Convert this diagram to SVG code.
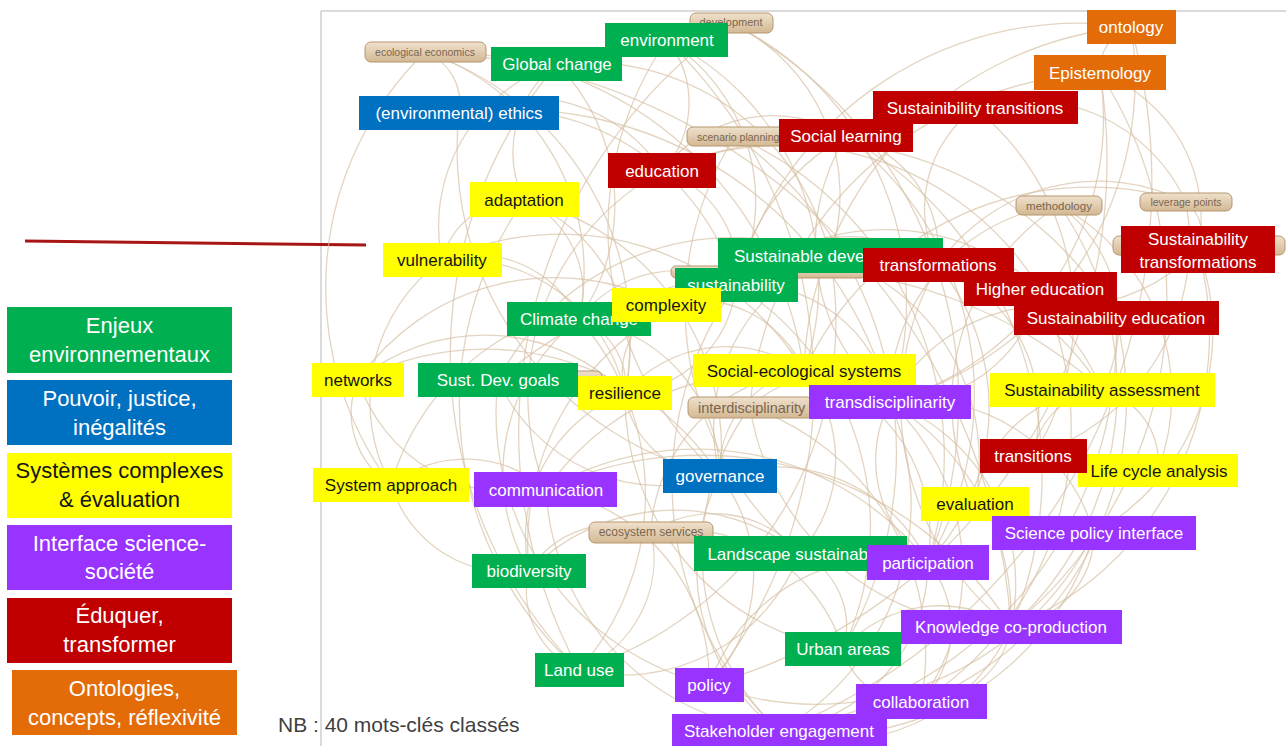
<svg xmlns="http://www.w3.org/2000/svg" width="1286" height="746" viewBox="0 0 1286 746">
<defs>
<linearGradient id="tanG" x1="0" y1="0" x2="0" y2="1">
<stop offset="0" stop-color="#efe1cd"/>
<stop offset="1" stop-color="#d3b893"/>
</linearGradient>
<clipPath id="frameClip"><rect x="322" y="12" width="964" height="734"/></clipPath>
<style>
.g{fill:#00B050}.b{fill:#0070C0}.y{fill:#FFFF00}.p{fill:#9933FF}.r{fill:#C00000}.o{fill:#E36C09}
.t{font-family:"Liberation Sans",Arial,sans-serif;font-size:17px;fill:#ffffff;text-anchor:middle}
.tan{fill:url(#tanG);stroke:#b5966f;stroke-width:1}
.tt{font-family:"Liberation Sans",Arial,sans-serif;fill:#7a6650;text-anchor:middle}
.lg{font-family:"Liberation Sans",Arial,sans-serif;font-size:22px;fill:#ffffff;text-anchor:middle}
.t.s,.tt.s{text-anchor:start}
.t.k,.lg.k{fill:#151515}
#edges path{fill:none;stroke:#d6bfa4;stroke-opacity:0.68;stroke-width:1.3}
</style>
</defs>
<rect width="1286" height="746" fill="#ffffff"/>
<g id="frame" fill="none" stroke="#d0d0d0" stroke-width="1.5">
<path d="M321 11 H1286 M321 11 V746"/>
</g>
<path id="redline" d="M25 241 L366 245" stroke="#a81515" stroke-width="3" fill="none"/>
<g id="edges" clip-path="url(#frameClip)">
<path d="M425 52 A230 230 0 0 1 579 319"/>
<path d="M425 52 A370 370 0 0 1 804 371"/>
<path d="M425 52 A330 330 0 0 0 391 485"/>
<path d="M425 52 A300 300 0 0 1 625 393"/>
<path d="M557 64 A200 200 0 0 1 579 319"/>
<path d="M557 64 A110 110 0 0 0 524 200"/>
<path d="M557 64 A170 170 0 0 0 442 260"/>
<path d="M557 64 A250 250 0 0 1 830 256"/>
<path d="M557 64 A450 450 0 0 0 579 670"/>
<path d="M667 40 A100 100 0 0 1 662 171"/>
<path d="M667 40 A190 190 0 0 1 736 285"/>
<path d="M667 40 A330 330 0 0 0 720 476"/>
<path d="M667 40 A270 270 0 0 1 804 371"/>
<path d="M667 40 A480 480 0 0 1 709 685"/>
<path d="M731 23 A190 190 0 0 1 830 256"/>
<path d="M731 23 A310 310 0 0 1 890 402"/>
<path d="M731 23 A430 430 0 0 1 928 562"/>
<path d="M459 113 A245 245 0 0 1 736 285"/>
<path d="M459 113 A390 390 0 0 1 890 402"/>
<path d="M459 113 A335 335 0 0 0 720 476"/>
<path d="M459 113 A160 160 0 0 1 662 171"/>
<path d="M735 136 A350 350 0 0 1 928 562"/>
<path d="M735 136 A320 320 0 0 0 800 553"/>
<path d="M735 136 A390 390 0 0 1 843 649"/>
<path d="M662 171 A300 300 0 0 1 1040 289"/>
<path d="M662 171 A360 360 0 0 1 1116 318"/>
<path d="M662 171 A140 140 0 0 1 846 136"/>
<path d="M662 171 A105 105 0 0 1 736 285"/>
<path d="M662 171 A255 255 0 0 0 546 490"/>
<path d="M524 200 A100 100 0 0 1 579 319"/>
<path d="M524 200 A80 80 0 0 0 442 260"/>
<path d="M524 200 A165 165 0 0 1 625 393"/>
<path d="M524 200 A255 255 0 0 1 720 476"/>
<path d="M524 200 A355 355 0 0 0 579 670"/>
<path d="M1131 27 A45 45 0 0 0 1100 73"/>
<path d="M1131 27 A335 335 0 0 1 890 402"/>
<path d="M1131 27 A355 355 0 0 0 804 371"/>
<path d="M1131 27 A355 355 0 0 0 736 285"/>
<path d="M1100 73 A295 295 0 0 1 890 402"/>
<path d="M1100 73 A365 365 0 0 0 750 407"/>
<path d="M1100 73 A155 155 0 0 1 1198 250"/>
<path d="M1100 73 A420 420 0 0 1 1011 627"/>
<path d="M975 108 A265 265 0 0 1 1033 456"/>
<path d="M975 108 A125 125 0 0 0 938 265"/>
<path d="M975 108 A225 225 0 0 0 736 285"/>
<path d="M975 108 A175 175 0 0 1 1186 202"/>
<path d="M846 136 A325 325 0 0 1 928 562"/>
<path d="M846 136 A120 120 0 0 1 938 265"/>
<path d="M846 136 A205 205 0 0 0 890 402"/>
<path d="M846 136 A390 390 0 0 1 1011 627"/>
<path d="M1059 205 A195 195 0 0 0 890 402"/>
<path d="M1059 205 A145 145 0 0 1 1102 390"/>
<path d="M1059 205 A215 215 0 0 1 1158 470"/>
<path d="M1059 205 A235 235 0 0 0 975 504"/>
<path d="M1059 205 A320 320 0 0 1 1011 627"/>
<path d="M1186 202 A40 40 0 0 1 1198 250"/>
<path d="M1186 202 A195 195 0 0 0 938 265"/>
<path d="M1186 202 A225 225 0 0 1 1033 456"/>
<path d="M1186 202 A315 315 0 0 0 804 371"/>
<path d="M1198 250 A195 195 0 0 1 938 265"/>
<path d="M1198 250 A315 315 0 0 1 1011 627"/>
<path d="M1198 250 A230 230 0 0 1 1094 533"/>
<path d="M938 265 A160 160 0 0 1 1033 456"/>
<path d="M938 265 A280 280 0 0 0 1011 627"/>
<path d="M938 265 A225 225 0 0 1 928 562"/>
<path d="M938 265 A155 155 0 0 0 736 285"/>
<path d="M1040 289 A65 65 0 0 1 1116 318"/>
<path d="M1040 289 A230 230 0 0 0 736 285"/>
<path d="M1040 289 A145 145 0 0 1 890 402"/>
<path d="M1040 289 A325 325 0 0 1 921 702"/>
<path d="M1116 318 A180 180 0 0 0 890 402"/>
<path d="M1116 318 A400 400 0 0 1 779 731"/>
<path d="M1116 318 A325 325 0 0 1 921 702"/>
<path d="M830 256 A265 265 0 0 0 498 380"/>
<path d="M830 256 A230 230 0 0 1 1102 390"/>
<path d="M830 256 A185 185 0 0 0 720 476"/>
<path d="M830 256 A215 215 0 0 1 975 504"/>
<path d="M830 256 A365 365 0 0 1 579 670"/>
<path d="M736 285 A125 125 0 0 0 579 319"/>
<path d="M736 285 A120 120 0 0 1 625 393"/>
<path d="M736 285 A285 285 0 0 1 1102 390"/>
<path d="M736 285 A145 145 0 0 1 890 402"/>
<path d="M736 285 A285 285 0 0 1 843 649"/>
<path d="M736 285 A340 340 0 0 0 779 731"/>
<path d="M736 285 A265 265 0 0 0 529 571"/>
<path d="M442 260 A170 170 0 0 1 625 393"/>
<path d="M442 260 A115 115 0 0 1 579 319"/>
<path d="M442 260 A175 175 0 0 0 391 485"/>
<path d="M442 260 A285 285 0 0 1 804 371"/>
<path d="M579 319 A70 70 0 0 1 625 393"/>
<path d="M579 319 A195 195 0 0 0 529 571"/>
<path d="M579 319 A265 265 0 0 1 579 670"/>
<path d="M579 319 A160 160 0 0 1 720 476"/>
<path d="M666 305 A115 115 0 0 1 804 371"/>
<path d="M666 305 A250 250 0 0 0 391 485"/>
<path d="M666 305 A240 240 0 0 0 358 380"/>
<path d="M666 305 A75 75 0 0 0 625 393"/>
<path d="M358 380 A200 200 0 0 1 625 393"/>
<path d="M358 380 A165 165 0 0 0 546 490"/>
<path d="M358 380 A280 280 0 0 1 720 476"/>
<path d="M358 380 A85 85 0 0 0 391 485"/>
<path d="M498 380 A455 455 0 0 1 1102 390"/>
<path d="M498 380 A180 180 0 0 0 720 476"/>
<path d="M498 380 A280 280 0 0 0 709 685"/>
<path d="M625 393 A135 135 0 0 1 804 371"/>
<path d="M625 393 A95 95 0 0 0 720 476"/>
<path d="M625 393 A155 155 0 0 0 529 571"/>
<path d="M625 393 A255 255 0 0 0 843 649"/>
<path d="M804 371 A170 170 0 0 0 651 532"/>
<path d="M804 371 A140 140 0 0 1 800 553"/>
<path d="M804 371 A170 170 0 0 1 928 562"/>
<path d="M804 371 A250 250 0 0 1 1011 627"/>
<path d="M804 371 A100 100 0 0 0 720 476"/>
<path d="M750 407 A105 105 0 0 1 890 402"/>
<path d="M750 407 A260 260 0 0 0 1011 627"/>
<path d="M750 407 A260 260 0 0 1 921 702"/>
<path d="M750 407 A245 245 0 0 0 779 731"/>
<path d="M890 402 A195 195 0 0 1 1011 627"/>
<path d="M890 402 A125 125 0 0 0 928 562"/>
<path d="M890 402 A230 230 0 0 1 921 702"/>
<path d="M890 402 A260 260 0 0 1 779 731"/>
<path d="M890 402 A185 185 0 0 1 1094 533"/>
<path d="M890 402 A270 270 0 0 0 546 490"/>
<path d="M1102 390 A75 75 0 0 1 1158 470"/>
<path d="M1102 390 A130 130 0 0 0 975 504"/>
<path d="M1102 390 A75 75 0 0 0 1033 456"/>
<path d="M1094 533 A310 310 0 0 1 709 685"/>
<path d="M1094 533 A95 95 0 0 1 1011 627"/>
<path d="M1094 533 A280 280 0 0 1 779 731"/>
<path d="M928 562 A170 170 0 0 1 779 731"/>
<path d="M928 562 A105 105 0 0 1 921 702"/>
<path d="M928 562 A190 190 0 0 0 709 685"/>
<path d="M928 562 A295 295 0 0 0 546 490"/>
<path d="M800 553 A80 80 0 0 1 843 649"/>
<path d="M800 553 A115 115 0 0 0 651 532"/>
<path d="M800 553 A190 190 0 0 1 579 670"/>
<path d="M800 553 A205 205 0 0 0 529 571"/>
<path d="M391 485 A120 120 0 0 1 546 490"/>
<path d="M391 485 A125 125 0 0 0 529 571"/>
<path d="M546 490 A255 255 0 0 0 779 731"/>
<path d="M546 490 A190 190 0 0 1 709 685"/>
<path d="M546 490 A365 365 0 0 1 1011 627"/>
<path d="M720 476 A160 160 0 0 1 709 685"/>
<path d="M720 476 A170 170 0 0 1 928 562"/>
<path d="M720 476 A200 200 0 0 0 779 731"/>
<path d="M651 532 A100 100 0 0 0 529 571"/>
<path d="M651 532 A120 120 0 0 1 579 670"/>
<path d="M651 532 A170 170 0 0 1 843 649"/>
<path d="M529 571 A85 85 0 0 0 579 670"/>
<path d="M843 649 A130 130 0 0 1 1011 627"/>
<path d="M843 649 A72 72 0 0 0 921 702"/>
<path d="M1011 627 A90 90 0 0 1 921 702"/>
<path d="M1011 627 A190 190 0 0 1 779 731"/>
<path d="M425 52 A55 55 0 0 1 459 113"/>
<path d="M1131 27 A590 590 0 0 1 779 731"/>
<path d="M425 52 A615 615 0 0 1 1011 627"/>
<path d="M731 23 A500 500 0 0 0 579 670"/>
<path d="M1100 73 A545 545 0 0 1 709 685"/>
</g>
<g id="tan-labels">
<g id="n-ecoecon"><rect class="tan" x="365" y="42" width="121" height="20" rx="6"/><text class="tt" x="425" y="56" font-size="10.5">ecological economics</text></g>
<g id="n-development"><rect class="tan" x="690" y="13" width="83" height="20" rx="6"/><text class="tt" x="731" y="26" font-size="11">development</text></g>
<g id="n-scenario"><rect class="tan" x="687" y="127" width="100" height="19" rx="6"/><text class="tt s" x="697" y="141" font-size="10.5">scenario planning</text></g>
<g id="n-methodology"><rect class="tan" x="1016" y="196" width="86" height="19" rx="6"/><text class="tt" x="1059" y="210" font-size="11.5">methodology</text></g>
<g id="n-leverage"><rect class="tan" x="1140" y="193" width="92" height="18" rx="6"/><text class="tt" x="1186" y="206" font-size="10.5">leverage points</text></g>
<g id="n-tan-st"><rect class="tan" x="1113" y="236" width="172" height="19" rx="6"/></g>
<g id="n-tan-sus"><rect class="tan" x="671" y="266" width="195" height="12" rx="5"/></g>
<g id="n-tan-sdg"><rect class="tan" x="556" y="371" width="46" height="20" rx="6"/></g>
<g id="n-interdisc"><rect class="tan" x="688" y="397" width="125" height="21" rx="6"/><text class="tt s" x="698" y="413" font-size="14.5">interdisciplinarity</text></g>
<g id="n-ecoservices"><rect class="tan" x="589" y="522" width="124" height="21" rx="6"/><text class="tt" x="651" y="536" font-size="12">ecosystem services</text></g>
</g>
<g id="nodes">
<g id="n-environment"><rect class="g" x="605" y="23" width="123" height="34"/><text class="t" x="667" y="46">environment</text></g>
<g id="n-globalchange"><rect class="g" x="491" y="47" width="131" height="34"/><text class="t" x="557" y="70">Global change</text></g>
<g id="n-ethics"><rect class="b" x="359" y="96" width="200" height="34"/><text class="t" x="459" y="119">(environmental) ethics</text></g>
<g id="n-education"><rect class="r" x="608" y="153" width="108" height="35"/><text class="t" x="662" y="177">education</text></g>
<g id="n-adaptation"><rect class="y" x="470" y="182" width="109" height="35"/><text class="t k" x="524" y="206">adaptation</text></g>
<g id="n-ontology"><rect class="o" x="1087" y="10" width="89" height="34"/><text class="t" x="1131" y="33">ontology</text></g>
<g id="n-epistemology"><rect class="o" x="1034" y="55" width="132" height="35"/><text class="t" x="1100" y="79">Epistemology</text></g>
<g id="n-sustransitions"><rect class="r" x="873" y="91" width="205" height="33"/><text class="t" x="975" y="114">Sustainibility transitions</text></g>
<g id="n-sociallearning"><rect class="r" x="779" y="119" width="134" height="33"/><text class="t" x="846" y="142">Social learning</text></g>
<g id="n-sustransformations"><rect class="r" x="1121" y="226" width="154" height="47"/><text class="t" x="1198" y="245">Sustainability</text><text class="t" x="1198" y="268">transformations</text></g>
<g id="n-susdev"><rect class="g" x="718" y="238" width="225" height="35"/><text class="t s" x="734" y="262">Sustainable deve</text></g>
<g id="n-transformations"><rect class="r" x="863" y="248" width="151" height="34"/><text class="t" x="938" y="271">transformations</text></g>
<g id="n-higheredu"><rect class="r" x="964" y="272" width="153" height="34"/><text class="t" x="1040" y="295">Higher education</text></g>
<g id="n-susedu"><rect class="r" x="1014" y="301" width="205" height="34"/><text class="t" x="1116" y="324">Sustainability education</text></g>
<g id="n-sustainability"><rect class="g" x="675" y="268" width="123" height="34"/><text class="t" x="736" y="291">sustainability</text></g>
<g id="n-vulnerability"><rect class="y" x="383" y="243" width="119" height="34"/><text class="t k" x="442" y="266">vulnerability</text></g>
<g id="n-climate"><rect class="g" x="507" y="302" width="144" height="34"/><text class="t" x="579" y="325">Climate change</text></g>
<g id="n-complexity"><rect class="y" x="612" y="288" width="109" height="34"/><text class="t k" x="666" y="311">complexity</text></g>
<g id="n-networks"><rect class="y" x="312" y="363" width="92" height="34"/><text class="t k" x="358" y="386">networks</text></g>
<g id="n-sdg"><rect class="g" x="418" y="363" width="160" height="34"/><text class="t" x="498" y="386">Sust. Dev. goals</text></g>
<g id="n-resilience"><rect class="y" x="578" y="376" width="94" height="34"/><text class="t k" x="625" y="399">resilience</text></g>
<g id="n-ses"><rect class="y" x="693" y="354" width="223" height="33"/><text class="t k" x="804" y="377">Social-ecological systems</text></g>
<g id="n-transdisc"><rect class="p" x="809" y="385" width="162" height="34"/><text class="t" x="890" y="408">transdisciplinarity</text></g>
<g id="n-susassess"><rect class="y" x="990" y="373" width="225" height="34"/><text class="t k" x="1102" y="396">Sustainability assessment</text></g>
<g id="n-lca"><rect class="y" x="1078" y="454" width="160" height="33"/><text class="t k" x="1159" y="477">Life cycle analysis</text></g>
<g id="n-transitions"><rect class="r" x="980" y="439" width="107" height="34"/><text class="t" x="1033" y="462">transitions</text></g>
<g id="n-evaluation"><rect class="y" x="921" y="487" width="108" height="34"/><text class="t k" x="975" y="510">evaluation</text></g>
<g id="n-spi"><rect class="p" x="992" y="516" width="204" height="34"/><text class="t" x="1094" y="539">Science policy interface</text></g>
<g id="n-landscape"><rect class="g" x="694" y="536" width="213" height="35"/><text class="t" x="800" y="560">Landscape sustainability</text></g>
<g id="n-participation"><rect class="p" x="867" y="545" width="122" height="35"/><text class="t" x="928" y="569">participation</text></g>
<g id="n-systemapproach"><rect class="y" x="313" y="468" width="156" height="34"/><text class="t k" x="391" y="491">System approach</text></g>
<g id="n-communication"><rect class="p" x="474" y="472" width="143" height="35"/><text class="t" x="546" y="496">communication</text></g>
<g id="n-governance"><rect class="b" x="663" y="459" width="114" height="34"/><text class="t" x="720" y="482">governance</text></g>
<g id="n-biodiversity"><rect class="g" x="472" y="554" width="114" height="34"/><text class="t" x="529" y="577">biodiversity</text></g>
<g id="n-landuse"><rect class="g" x="535" y="653" width="89" height="34"/><text class="t" x="579" y="676">Land use</text></g>
<g id="n-policy"><rect class="p" x="675" y="668" width="69" height="34"/><text class="t" x="709" y="691">policy</text></g>
<g id="n-urban"><rect class="g" x="785" y="632" width="116" height="34"/><text class="t" x="843" y="655">Urban areas</text></g>
<g id="n-kcp"><rect class="p" x="901" y="610" width="221" height="34"/><text class="t" x="1011" y="633">Knowledge co-production</text></g>
<g id="n-collaboration"><rect class="p" x="856" y="684" width="131" height="35"/><text class="t" x="921" y="708">collaboration</text></g>
<g id="n-stakeholder"><rect class="p" x="672" y="714" width="215" height="34"/><text class="t" x="779" y="737">Stakeholder engagement</text></g>
</g>
<g id="legend">
<g id="lg-env"><rect class="g" x="7" y="307" width="225" height="66"/><text class="lg" x="119.5" y="333">Enjeux</text><text class="lg" x="119.5" y="362">environnementaux</text></g>
<g id="lg-pow"><rect class="b" x="7" y="380" width="225" height="65"/><text class="lg" x="119.5" y="406">Pouvoir, justice,</text><text class="lg" x="119.5" y="435">inégalités</text></g>
<g id="lg-sys"><rect class="y" x="7" y="453" width="225" height="65"/><text class="lg k" x="119.5" y="478">Systèmes complexes</text><text class="lg k" x="119.5" y="507">&amp; évaluation</text></g>
<g id="lg-int"><rect class="p" x="7" y="525" width="225" height="65"/><text class="lg" x="119.5" y="551">Interface science-</text><text class="lg" x="119.5" y="579">société</text></g>
<g id="lg-edu"><rect class="r" x="7" y="598" width="225" height="65"/><text class="lg" x="119.5" y="623">Éduquer,</text><text class="lg" x="119.5" y="652">transformer</text></g>
<g id="lg-ont"><rect class="o" x="12" y="670" width="225" height="65"/><text class="lg" x="124.5" y="696">Ontologies,</text><text class="lg" x="124.5" y="725">concepts, réflexivité</text></g>
</g>
<text id="nb" x="278" y="732" font-family="'Liberation Sans', Arial, sans-serif" font-size="21" fill="#404040">NB : 40 mots-clés classés</text>
</svg>
